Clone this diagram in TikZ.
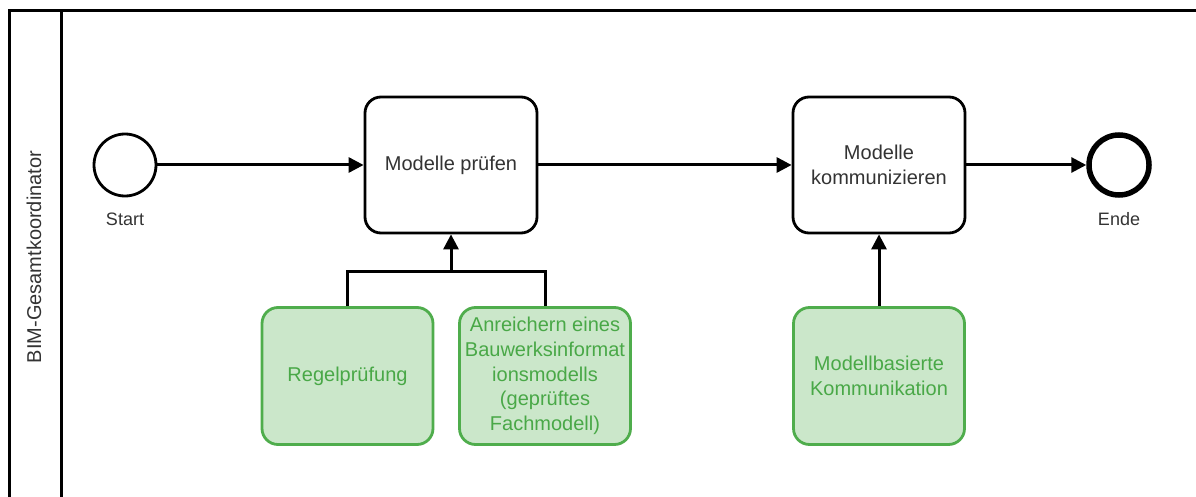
\documentclass[tikz,border=0pt]{standalone}
\usepackage{fontspec}
\setmainfont{Liberation Sans}
\usetikzlibrary{arrows.meta}
\definecolor{txtgray}{HTML}{333333}
\definecolor{grfill}{HTML}{CBE7CA}
\definecolor{grline}{HTML}{4FAD4C}
\definecolor{grtext}{HTML}{49A847}
\tikzset{
  taskbox/.style={draw=black, line width=2.8pt, rounded corners=16pt, fill=white,
    minimum width=172pt, minimum height=136pt, inner sep=0pt, align=center,
    text=txtgray, font=\fontsize{20}{24.6}\selectfont},
  subbox/.style={draw=grline, line width=2.8pt, rounded corners=16pt, fill=grfill,
    minimum width=171pt, minimum height=137pt, inner sep=0pt, align=center,
    text=grtext, font=\fontsize{20}{24.6}\selectfont},
  evlabel/.style={text=txtgray, font=\fontsize{18}{21}\selectfont, inner sep=0pt},
  flow/.style={line width=3pt, -{Triangle[length=15pt,width=15pt]}},
  plainflow/.style={line width=3pt},
  lane/.style={line width=3pt}
}
\begin{document}
\begin{tikzpicture}[x=1pt,y=-1pt]
\useasboundingbox (0,0) rectangle (1196,497);
% swimlane
\draw[lane] (9,530) -- (9,11) -- (1230,11);
\draw[lane] (61,11) -- (61,530);
\node[rotate=90, evlabel, font=\fontsize{20}{24}\selectfont] (lanelbl) at (34,257) {BIM-Gesamtkoordinator};
% events
\node[circle, draw=black, line width=2.8pt, minimum size=62pt, inner sep=0pt] (start) at (125,165) {};
\node[evlabel] (startlbl) at (125,219) {Start};
\node[circle, draw=black, line width=5.5pt, minimum size=60pt, inner sep=0pt] (ende) at (1119,165) {};
\node[evlabel] (endelbl) at (1119,219) {Ende};
% tasks
\node[taskbox] (mp) at (451,165) {Modelle prüfen};
\node[taskbox] (mk) at (879,165) {Modelle\\kommunizieren};
% sub boxes
\node[subbox] (rp) at (347.5,376) {Regelprüfung};
\node[subbox] (an) at (545,376) {Anreichern eines\\Bauwerksinformat\\ionsmodells\\(geprüftes\\Fachmodell)};
\node[subbox] (mb) at (879,376) {Modellbasierte\\Kommunikation};
% connectors
\draw[flow] (start) -- (mp);
\draw[flow] (mp) -- (mk);
\draw[flow] (mk) -- (ende);
\coordinate (merge) at (451,271);
\draw[plainflow] (rp.north) |- (merge);
\draw[plainflow] (an.north) |- (merge);
\draw[flow] (merge) -- (mp.south);
\draw[flow] (mb.north) -- (mk.south);
\end{tikzpicture}
\end{document}
